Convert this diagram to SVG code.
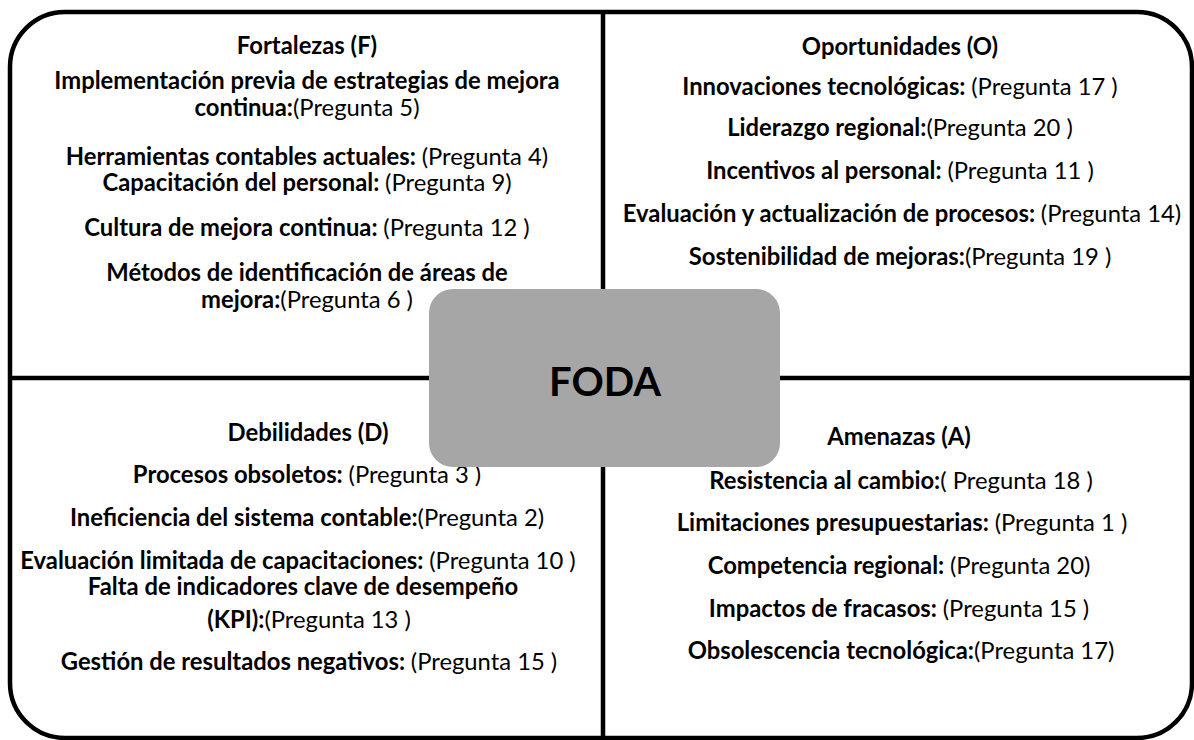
<svg xmlns="http://www.w3.org/2000/svg" width="1194" height="740" viewBox="0 0 1194 740">
<style>
.t{font-family:Lato,"Open Sans","Liberation Sans",sans-serif;font-size:23.8px;fill:#000;text-anchor:middle}
.b{font-weight:bold}
.r{font-weight:normal}
.line{stroke:#000;stroke-width:4.5;fill:none}
.hub{fill:#a6a6a6}
.hubt{font-family:Lato,"Open Sans","Liberation Sans",sans-serif;font-size:40px;font-weight:bold;fill:#000;text-anchor:middle}
</style>
<rect width="1194" height="740" fill="#fff"/>
<g id="frame">
<rect class="line" x="10" y="12" width="1182" height="726" rx="55" ry="55"/>
</g>
<g id="connectors">
<line class="line" x1="603" y1="12" x2="603" y2="738"/>
<line class="line" x1="10" y1="378" x2="1192" y2="378"/>
</g>
<g id="fortalezas">
<text class="t b" x="307" y="54">Fortalezas (F)</text>
<text class="t b" x="307" y="89">Implementación previa de estrategias de mejora</text>
<text class="t" x="307" y="116"><tspan class="b">continua:</tspan><tspan class="r">(Pregunta 5)</tspan></text>
<text class="t" x="307" y="165"><tspan class="b">Herramientas contables actuales: </tspan><tspan class="r">(Pregunta 4)</tspan></text>
<text class="t" x="307" y="191"><tspan class="b">Capacitación del personal: </tspan><tspan class="r">(Pregunta 9)</tspan></text>
<text class="t" x="307" y="236"><tspan class="b">Cultura de mejora continua: </tspan><tspan class="r">(Pregunta 12 )</tspan></text>
<text class="t b" x="307" y="281">Métodos de identificación de áreas de</text>
<text class="t" x="307" y="308"><tspan class="b">mejora:</tspan><tspan class="r">(Pregunta 6 )</tspan></text>
</g>
<g id="oportunidades">
<text class="t b" x="900" y="55">Oportunidades (O)</text>
<text class="t" x="900" y="95"><tspan class="b">Innovaciones tecnológicas: </tspan><tspan class="r">(Pregunta 17 )</tspan></text>
<text class="t" x="900" y="136"><tspan class="b">Liderazgo regional:</tspan><tspan class="r">(Pregunta 20 )</tspan></text>
<text class="t" x="900" y="179"><tspan class="b">Incentivos al personal: </tspan><tspan class="r">(Pregunta 11 )</tspan></text>
<text class="t" x="902" y="222"><tspan class="b">Evaluación y actualización de procesos: </tspan><tspan class="r">(Pregunta 14)</tspan></text>
<text class="t" x="900" y="265"><tspan class="b">Sostenibilidad de mejoras:</tspan><tspan class="r">(Pregunta 19 )</tspan></text>
</g>
<g id="debilidades">
<text class="t b" x="308" y="441">Debilidades (D)</text>
<text class="t" x="307" y="483"><tspan class="b">Procesos obsoletos: </tspan><tspan class="r">(Pregunta 3 )</tspan></text>
<text class="t" x="307" y="526"><tspan class="b">Ineficiencia del sistema contable:</tspan><tspan class="r">(Pregunta 2)</tspan></text>
<text class="t" x="298" y="569"><tspan class="b">Evaluación limitada de capacitaciones: </tspan><tspan class="r">(Pregunta 10 )</tspan></text>
<text class="t b" x="303" y="595">Falta de indicadores clave de desempeño</text>
<text class="t" x="309" y="628"><tspan class="b">(KPI):</tspan><tspan class="r">(Pregunta 13 )</tspan></text>
<text class="t" x="309" y="670"><tspan class="b">Gestión de resultados negativos: </tspan><tspan class="r">(Pregunta 15 )</tspan></text>
</g>
<g id="amenazas">
<text class="t b" x="899" y="445">Amenazas (A)</text>
<text class="t" x="901" y="489"><tspan class="b">Resistencia al cambio:</tspan><tspan class="r">( Pregunta 18 )</tspan></text>
<text class="t" x="902" y="531"><tspan class="b">Limitaciones presupuestarias: </tspan><tspan class="r">(Pregunta 1 )</tspan></text>
<text class="t" x="899" y="574"><tspan class="b">Competencia regional: </tspan><tspan class="r">(Pregunta 20)</tspan></text>
<text class="t" x="899" y="617"><tspan class="b">Impactos de fracasos: </tspan><tspan class="r">(Pregunta 15 )</tspan></text>
<text class="t" x="901" y="659"><tspan class="b">Obsolescencia tecnológica:</tspan><tspan class="r">(Pregunta 17)</tspan></text>
</g>
<g id="foda">
<rect class="hub" x="429" y="289" width="351" height="178" rx="24" ry="24"/>
<text class="hubt" x="605" y="396">FODA</text>
</g>
</svg>
